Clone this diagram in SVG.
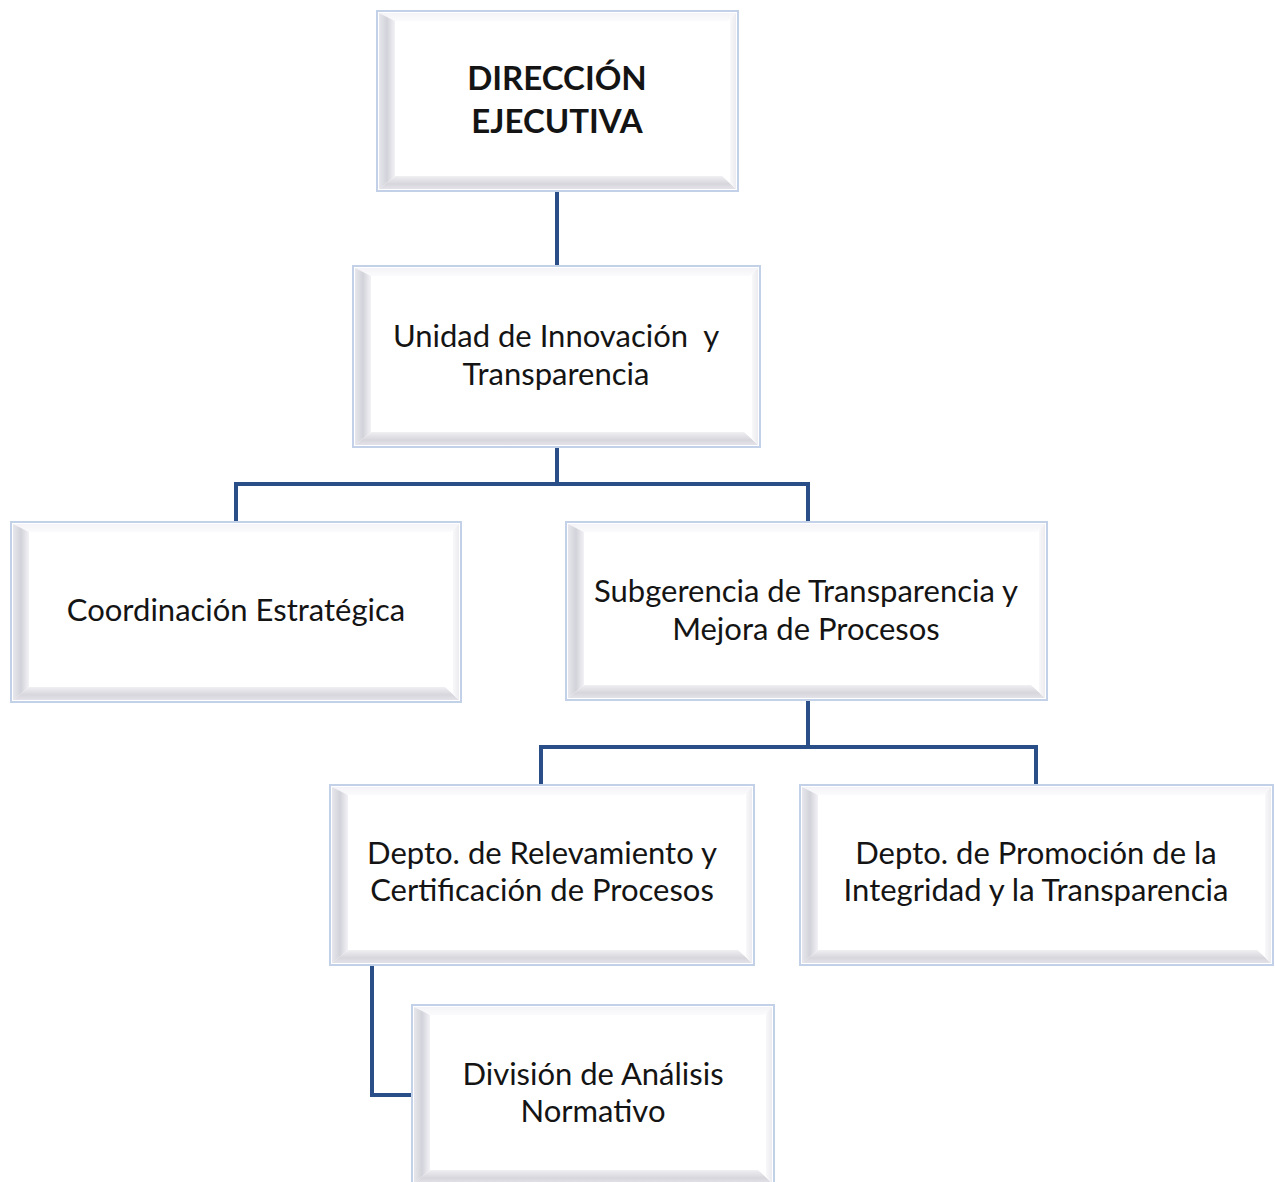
<svg xmlns="http://www.w3.org/2000/svg" width="1275" height="1182" viewBox="0 0 1275 1182">
<defs>
<linearGradient id="gl" x1="0" y1="0" x2="1" y2="0"><stop offset="0" stop-color="#e6e6ec"/><stop offset="0.5" stop-color="#d2d2da"/><stop offset="1" stop-color="#f2f2f6"/></linearGradient>
<linearGradient id="gb" x1="0" y1="0" x2="0" y2="1"><stop offset="0" stop-color="#f0f0f3"/><stop offset="0.6" stop-color="#d6d6dc"/><stop offset="1" stop-color="#e2e2e8"/></linearGradient>
<linearGradient id="gt" x1="0" y1="0" x2="0" y2="1"><stop offset="0" stop-color="#f4f4f8"/><stop offset="1" stop-color="#fbfbfd"/></linearGradient>
<linearGradient id="gr" x1="0" y1="0" x2="1" y2="0"><stop offset="0" stop-color="#f8f8fa"/><stop offset="1" stop-color="#ececf0"/></linearGradient>
</defs>
<style>
.o{fill:#ffffff;stroke:#c3d1e8;stroke-width:2}
.l{fill:url(#gl)}.b{fill:url(#gb)}.t{fill:url(#gt)}.r{fill:url(#gr)}
.tx{font-family:Lato,"Open Sans","Liberation Sans",sans-serif;font-size:31px;fill:#141414;text-anchor:middle}
.bd{font-weight:bold;font-size:33px}
.c{fill:none;stroke:#2a4e88;stroke-width:4}
</style>
<g id="connectors">
<path class="c" d="M557,191 V266"/>
<path class="c" d="M557,447 V484 M236,522 V484 H808 V522"/>
<path class="c" d="M808,700 V747 M541,785 V747 H1036 V785"/>
<path class="c" d="M372,965 V1095 H412"/>
</g>
<g id="n1">
<rect class="o" x="377" y="11" width="361" height="180"/>
<polygon class="t" points="379,13 736,13 728,21 395,21"/>
<polygon class="l" points="379,13 395,21 395,176 379,189"/>
<polygon class="b" points="379,189 395,176 722,176 736,189"/>
<polygon class="r" points="736,13 736,189 730,182 730,19"/>
<text class="tx bd" x="557" y="90">DIRECCIÓN</text>
<text class="tx bd" x="557" y="133">EJECUTIVA</text>
</g>
<g id="n2">
<rect class="o" x="353" y="266" width="407" height="181"/>
<polygon class="t" points="355,268 758,268 750,276 371,276"/>
<polygon class="l" points="355,268 371,276 371,432 355,445"/>
<polygon class="b" points="355,445 371,432 744,432 758,445"/>
<polygon class="r" points="758,268 758,445 752,438 752,274"/>
<text class="tx" x="556" y="347">Unidad de Innovación&#160; y</text>
<text class="tx" x="556" y="385">Transparencia</text>
</g>
<g id="n3">
<rect class="o" x="11" y="522" width="450" height="180"/>
<polygon class="t" points="13,524 459,524 451,532 29,532"/>
<polygon class="l" points="13,524 29,532 29,687 13,700"/>
<polygon class="b" points="13,700 29,687 445,687 459,700"/>
<polygon class="r" points="459,524 459,700 453,693 453,530"/>
<text class="tx" x="236" y="621">Coordinación Estratégica</text>
</g>
<g id="n4">
<rect class="o" x="566" y="522" width="481" height="178"/>
<polygon class="t" points="568,524 1045,524 1037,532 584,532"/>
<polygon class="l" points="568,524 584,532 584,685 568,698"/>
<polygon class="b" points="568,698 584,685 1031,685 1045,698"/>
<polygon class="r" points="1045,524 1045,698 1039,691 1039,530"/>
<text class="tx" x="806" y="602">Subgerencia de Transparencia y</text>
<text class="tx" x="806" y="640">Mejora de Procesos</text>
</g>
<g id="n5">
<rect class="o" x="330" y="785" width="424" height="180"/>
<polygon class="t" points="332,787 752,787 744,795 348,795"/>
<polygon class="l" points="332,787 348,795 348,950 332,963"/>
<polygon class="b" points="332,963 348,950 738,950 752,963"/>
<polygon class="r" points="752,787 752,963 746,956 746,793"/>
<text class="tx" x="542" y="864">Depto. de Relevamiento y</text>
<text class="tx" x="542" y="901">Certificación de Procesos</text>
</g>
<g id="n6">
<rect class="o" x="800" y="785" width="473" height="180"/>
<polygon class="t" points="802,787 1271,787 1263,795 818,795"/>
<polygon class="l" points="802,787 818,795 818,950 802,963"/>
<polygon class="b" points="802,963 818,950 1257,950 1271,963"/>
<polygon class="r" points="1271,787 1271,963 1265,956 1265,793"/>
<text class="tx" x="1036" y="864">Depto. de Promoción de la</text>
<text class="tx" x="1036" y="901">Integridad y la Transparencia</text>
</g>
<g id="n7">
<rect class="o" x="412" y="1005" width="362" height="180"/>
<polygon class="t" points="414,1007 772,1007 764,1015 430,1015"/>
<polygon class="l" points="414,1007 430,1015 430,1170 414,1183"/>
<polygon class="b" points="414,1183 430,1170 758,1170 772,1183"/>
<polygon class="r" points="772,1007 772,1183 766,1176 766,1013"/>
<text class="tx" x="593" y="1085">División de Análisis</text>
<text class="tx" x="593" y="1122">Normativo</text>
</g>
</svg>
